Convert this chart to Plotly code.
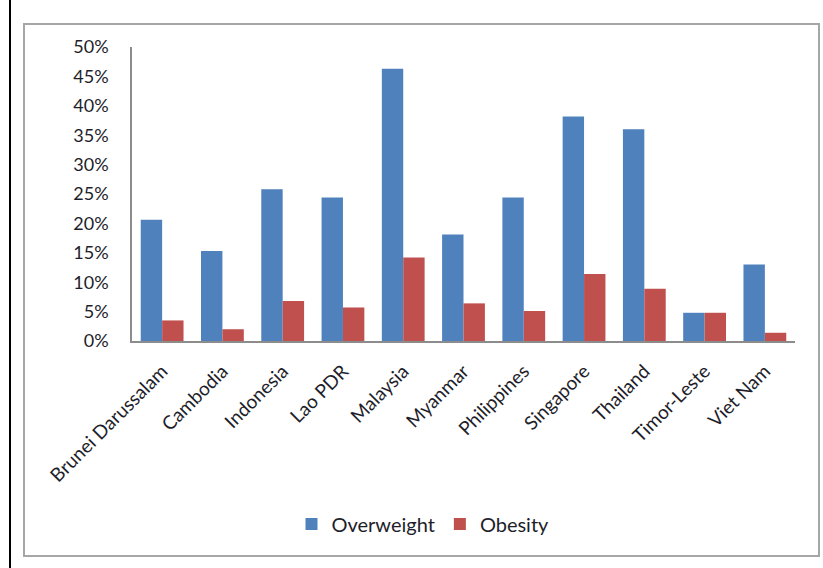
import plotly.graph_objects as go

countries = ["Brunei Darussalam", "Cambodia", "Indonesia", "Lao PDR", "Malaysia",
             "Myanmar", "Philippines", "Singapore", "Thailand", "Timor-Leste", "Viet Nam"]
overweight = [0.206, 0.153, 0.258, 0.244, 0.463, 0.181, 0.244, 0.382, 0.360, 0.048, 0.130]
obesity = [0.035, 0.020, 0.068, 0.057, 0.142, 0.064, 0.051, 0.114, 0.089, 0.048, 0.014]
yticks = [0, 0.05, 0.10, 0.15, 0.20, 0.25, 0.30, 0.35, 0.40, 0.45, 0.50]

W, H = 823, 568
L, R, T, B = 132, 28, 47, 227
pw, ph = W - L - R, H - T - B

def px(x):
    return (x - L) / pw

def py(y):
    return (H - B - y) / ph

FONT = "Lato"
TXT = "#1e1e2a"

fig = go.Figure()
fig.add_trace(go.Bar(x=countries, y=overweight, name="Overweight",
                     marker=dict(color="#4F81BD", line=dict(width=0))))
fig.add_trace(go.Bar(x=countries, y=obesity, name="Obesity",
                     marker=dict(color="#C0504D", line=dict(width=0))))

fig.update_layout(
    width=W, height=H,
    margin=dict(l=L, r=R, t=T, b=B, autoexpand=False),
    paper_bgcolor="white", plot_bgcolor="white",
    barmode="group", bargap=0.29, bargroupgap=0,
    font=dict(family=FONT, color=TXT),
    showlegend=True,
    legend=dict(orientation="h", x=px(423), xanchor="center", y=py(524), yanchor="middle",
                font=dict(size=20, family=FONT, color=TXT), itemwidth=30,
                bgcolor="rgba(0,0,0,0)"),
    xaxis=dict(showline=True, linecolor="#8c8c8c", linewidth=1.5, tickangle=-45,
               tickfont=dict(size=19, family=FONT, color=TXT), showgrid=False,
               ticks="", ticklabelstandoff=10, range=[-0.5, 10.5]),
    yaxis=dict(showline=True, linecolor="#8c8c8c", linewidth=1.5, range=[0, 0.5],
               tickvals=yticks, tickformat=".0%", showgrid=False, zeroline=False,
               tickfont=dict(size=18, family=FONT, color=TXT), ticks="",
               ticklabelstandoff=18),
    shapes=[
        dict(type="rect", xref="paper", yref="paper", x0=px(24), x1=px(819), y0=py(556), y1=py(24),
             line=dict(color="#a6a6a6", width=2), layer="below"),
        dict(type="line", xref="paper", yref="paper", x0=px(10), x1=px(10), y0=py(568), y1=py(0),
             line=dict(color="black", width=2)),
    ],
)

fig.write_html("out.html")
